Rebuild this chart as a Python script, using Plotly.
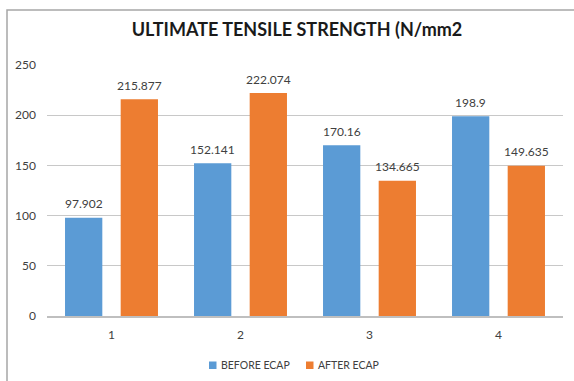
import plotly.graph_objects as go

# Sample groups and tensile strength values (N/mm2)
categories = ["1", "2", "3", "4"]
before_ecap = [97.902, 152.141, 170.16, 198.9]
after_ecap = [215.877, 222.074, 134.665, 149.635]
y_ticks = [0, 50, 100, 150, 200, 250]
series_names = ["BEFORE ECAP", "AFTER ECAP"]

BLUE = "#5b9bd5"
ORANGE = "#ed7d31"
TEXT = "#404040"
FONT = "Lato"

# Plot area occupies x 47..563 px, y 65..316 px of the 574x381 page
L, R, T, B = 47, 11, 65, 65
W, H = 574, 381
pw, ph = W - L - R, H - T - B

BARGAP, GROUPGAP = 0.137, 0.33
cat_w = pw / len(categories)
half_slot = cat_w * (1 - BARGAP) / 4  # offset of each bar centre from category centre


def px_x(x):
    return (x - L) / pw


def px_y(y):
    return (H - B - y) / ph


fig = go.Figure()
for name, vals, color in ((series_names[0], before_ecap, BLUE),
                          (series_names[1], after_ecap, ORANGE)):
    fig.add_trace(go.Bar(name=name, x=categories, y=vals,
                         marker=dict(color=color, line=dict(width=0))))

# Value labels above each bar (x given as category index)
for vals, shift in ((before_ecap, -half_slot), (after_ecap, half_slot)):
    for i, v in enumerate(vals):
        fig.add_annotation(x=i, y=v, xref="x", yref="y", text=f"{v:g}",
                           showarrow=False, xshift=shift, yshift=14,
                           yanchor="middle",
                           font=dict(size=12, color=TEXT, family=FONT))

# Compact legend below the axis: small square swatch followed by the name
for name, color, sx in ((series_names[0], BLUE, 209), (series_names[1], ORANGE, 306)):
    fig.add_shape(type="rect", xref="paper", yref="paper",
                  x0=px_x(sx), x1=px_x(sx + 7.5), y0=px_y(369), y1=px_y(361.5),
                  line=dict(width=0), fillcolor=color)
    fig.add_annotation(xref="paper", yref="paper", x=px_x(sx + 10), y=px_y(365),
                       text=name, showarrow=False, xanchor="left", yanchor="middle",
                       font=dict(size=10.5, color=TEXT, family=FONT))

# Outer chart frame (only top and left edges are inside the page)
fig.add_shape(type="rect", xref="paper", yref="paper",
              x0=px_x(7), x1=px_x(700), y0=px_y(500), y1=px_y(10),
              line=dict(color="#a6a6a6", width=1.5), fillcolor="rgba(0,0,0,0)",
              layer="below")

fig.update_layout(
    width=W, height=H,
    margin=dict(l=L, r=R, t=T, b=B, autoexpand=False),
    paper_bgcolor="white", plot_bgcolor="white",
    barmode="group", bargap=BARGAP, bargroupgap=GROUPGAP,
    font=dict(family=FONT, color=TEXT, size=12),
    title=dict(text="<b>ULTIMATE TENSILE STRENGTH (N/mm2</b>",
               x=px_x(297), xref="paper", xanchor="center",
               y=1 - 30 / H, yref="container", yanchor="middle",
               font=dict(size=18, color="#1a1a1a", family=FONT)),
    xaxis=dict(type="category", range=[-0.5, len(categories) - 0.5],
               showgrid=False, showline=True, linecolor="#bfbfbf", linewidth=1.5,
               ticks="", ticklabelstandoff=7,
               tickfont=dict(size=12, color=TEXT)),
    yaxis=dict(range=[0, 250], tickvals=y_ticks, showgrid=True,
               gridcolor="#c8c8c8", gridwidth=1.2, zeroline=False,
               showline=False, ticks="", ticklabelstandoff=10,
               tickfont=dict(size=12, color=TEXT)),
    showlegend=False,
)

fig.write_html("out.html")
